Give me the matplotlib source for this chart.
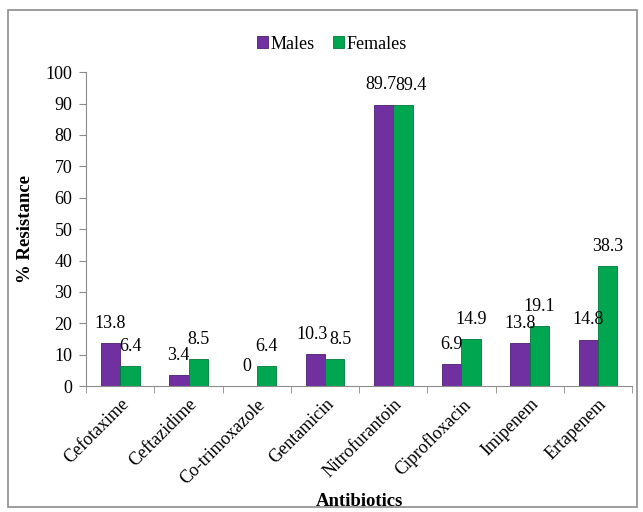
import numpy as np
import matplotlib.pyplot as plt
from matplotlib.patches import Rectangle

antibiotics = ['Cefotaxime', 'Ceftazidime', 'Co-trimoxazole', 'Gentamicin',
               'Nitrofurantoin', 'Ciprofloxacin', 'Imipenem', 'Ertapenem']
males = [13.8, 3.4, 0, 10.3, 89.7, 6.9, 13.8, 14.8]
females = [6.4, 8.5, 6.4, 8.5, 89.4, 14.9, 19.1, 38.3]

plt.rcParams['font.family'] = ['Liberation Serif', 'DejaVu Serif']
fs = 13

fig = plt.figure(figsize=(6.43, 5.12), dpi=100)
ax = fig.add_axes([0.134, 0.246, 0.849, 0.613])

# outer frame around the whole chart
fig.patches.append(Rectangle((0.012, 0.01), 0.979, 0.97, transform=fig.transFigure,
                             fill=False, edgecolor='#8c8c8c', linewidth=1.2))

x = np.arange(len(antibiotics))
w = 0.285
purple = '#7030a0'
green = '#00a650'

b1 = ax.bar(x - w / 2, males, w, color=purple, edgecolor='#4b1f70', linewidth=0.6, label='Males')
b2 = ax.bar(x + w / 2, females, w, color=green, edgecolor='#007a3a', linewidth=0.6, label='Females')

# push crowded label pairs apart a little
nudge = {(0, 3): -2, (1, 3): 4, (0, 4): -2, (1, 4): 6}
for k, (bars, vals) in enumerate(((b1, males), (b2, females))):
    for i, (rect, v) in enumerate(zip(bars, vals)):
        ax.annotate(f'{v:g}', (rect.get_x() + rect.get_width() / 2, v),
                    xytext=(nudge.get((k, i), 0), 8), textcoords='offset points',
                    ha='center', va='bottom', fontsize=fs)

ax.set_xlim(-0.5, len(antibiotics) - 0.5)
ax.set_ylim(0, 100)
ax.set_yticks(range(0, 101, 10))
ax.tick_params(axis='y', labelsize=fs, direction='out', length=5, pad=5, color='#8c8c8c')

# category labels at the centres, tick marks between categories
ax.set_xticks(x)
ax.set_xticklabels(antibiotics, rotation=45, ha='right', rotation_mode='anchor', fontsize=fs)
ax.tick_params(axis='x', length=0, pad=7)
ax.set_xticks(np.arange(-0.5, len(antibiotics)), minor=True)
ax.tick_params(axis='x', which='minor', length=5, color='#8c8c8c', direction='out')

for s in ['top', 'right']:
    ax.spines[s].set_visible(False)
ax.spines['left'].set_color('#8c8c8c')
ax.spines['bottom'].set_color('#8c8c8c')

ax.set_ylabel('% Resistance', fontsize=fs + 0.5, fontweight='bold', labelpad=8)
ax.set_xlabel('Antibiotics', fontsize=fs + 0.5, fontweight='bold', labelpad=4)

fig.legend(handles=[b1, b2], labels=['Males', 'Females'], loc='center',
           bbox_to_anchor=(0.516, 0.914), ncol=2, frameon=False, fontsize=fs,
           handlelength=0.6, handleheight=0.6, handletextpad=0.15, columnspacing=1.0)

plt.savefig('out.png', dpi=100)
